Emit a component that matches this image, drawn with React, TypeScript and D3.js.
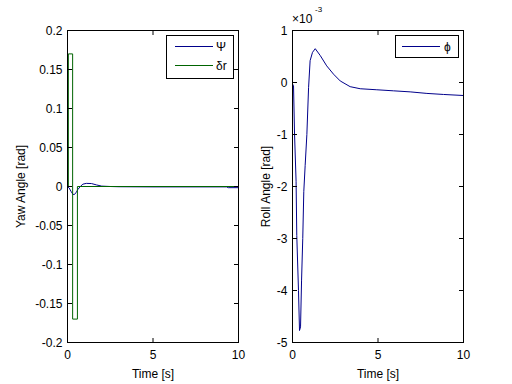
import React from 'react';
import * as d3 from 'd3';

// yaw angle psi [rad] over time [s]
const psiT = [0, 0.1, 0.2, 0.3, 0.38, 0.5, 0.6, 0.75, 0.9, 1.1, 1.4, 1.7, 2.0, 2.5, 3, 5, 9.3, 9.4, 10];
const psiV = [0, -0.002, -0.006, -0.0095, -0.0105, -0.008, -0.004, 0, 0.003, 0.004, 0.0038, 0.002, 0.0005, 0, -0.0003, -0.0005, -0.0005, -0.0015, -0.0015];

// rudder deflection delta_r [rad]
const drT = [0, 0.05, 0.05, 0.3, 0.3, 0.58, 0.58, 10];
const drV = [0, 0, 0.17, 0.17, -0.17, -0.17, 0, 0];

// roll angle phi [x1e-3 rad]
const phiT = [0, 0.06, 0.12, 0.21, 0.25, 0.35, 0.41, 0.47, 0.53, 0.6, 0.66, 0.74, 0.84, 0.94, 1.03, 1.17, 1.33, 1.62, 2.0, 2.4, 2.79, 3.37, 3.96, 4.93, 5.9, 6.88, 7.86, 8.83, 10];
const phiV = [-0.03, -0.06, -1.0, -1.9, -2.94, -4.0, -4.77, -4.7, -3.8, -3.0, -2.1, -1.6, -1.0, -0.1, 0.42, 0.58, 0.65, 0.52, 0.32, 0.16, 0.03, -0.08, -0.12, -0.14, -0.16, -0.18, -0.21, -0.23, -0.25];

const xTicks = [0, 5, 10];
const yawTicks = [0.2, 0.15, 0.1, 0.05, 0, -0.05, -0.1, -0.15, -0.2];
const rollTicks = [1, 0, -1, -2, -3, -4, -5];

const FONT = '"Liberation Sans", Arial, Helvetica, sans-serif';
const BLUE = '#00008b';
const GREEN = '#006400';

type Series = { t: number[]; v: number[]; color: string };

function Panel({ x0, x1, yDomain, yTicks, yLabel, labelX, series }: {
  x0: number; x1: number; yDomain: [number, number]; yTicks: number[]; yLabel: string;
  labelX: number; series: Series[];
}) {
  const top = 30.5, bottom = 342.5;
  const x = d3.scaleLinear().domain([0, 10]).range([x0, x1]);
  const y = d3.scaleLinear().domain(yDomain).range([bottom, top]);
  const line = d3.line<[number, number]>().x(d => x(d[0])).y(d => y(d[1]));
  const tl = 4.5;
  return (
    <g fontFamily={FONT} fontSize={12}>
      <defs>
        <clipPath id={'clip' + x0}>
          <rect x={x0} y={top} width={x1 - x0} height={bottom - top} />
        </clipPath>
      </defs>
      <rect x={x0} y={top} width={x1 - x0} height={bottom - top} fill="white" />
      <g clipPath={`url(#clip${x0})`}>
        {series.map((s, i) => (
          <path key={i} d={line(s.t.map((t, j) => [t, s.v[j]] as [number, number])) || ''}
            fill="none" stroke={s.color} strokeWidth={1} />
        ))}
      </g>
      <rect x={x0} y={top} width={x1 - x0} height={bottom - top} fill="none" stroke="black" strokeWidth={1} />
      {xTicks.map(t => (
        <g key={'x' + t}>
          <line x1={x(t)} x2={x(t)} y1={bottom} y2={bottom - tl} stroke="black" />
          <line x1={x(t)} x2={x(t)} y1={top} y2={top + tl} stroke="black" />
          <text x={x(t)} y={359} textAnchor="middle">{t}</text>
        </g>
      ))}
      {yTicks.map(t => (
        <g key={'y' + t}>
          <line x1={x0} x2={x0 + tl} y1={y(t)} y2={y(t)} stroke="black" />
          <line x1={x1} x2={x1 - tl} y1={y(t)} y2={y(t)} stroke="black" />
          <text x={x0 - 5} y={y(t)} dy="0.35em" textAnchor="end">{String(t)}</text>
        </g>
      ))}
      <text x={(x0 + x1) / 2} y={378} textAnchor="middle">Time [s]</text>
      <text transform={`translate(${labelX},${(top + bottom) / 2}) rotate(-90)`} dy="0.35em" textAnchor="middle">{yLabel}</text>
    </g>
  );
}

export default function App() {
  return (
    <svg width={512} height={384} style={{ position: 'absolute', left: 0, top: 0, background: 'white' }}>
      <rect width={512} height={384} fill="white" />
      <Panel x0={67.5} x1={238.5} yDomain={[-0.2, 0.2]} yTicks={yawTicks} yLabel="Yaw Angle [rad]"
        labelX={21}
        series={[{ t: psiT, v: psiV, color: BLUE }, { t: drT, v: drV, color: GREEN }]} />
      <Panel x0={292.5} x1={463.5} yDomain={[-5, 1]} yTicks={rollTicks} yLabel="Roll Angle [rad]"
        labelX={266}
        series={[{ t: phiT, v: phiV, color: BLUE }]} />
      {/* exponent label */}
      <g fontFamily={FONT} fontSize={12}>
        <text x={292} y={23}>×10</text>
        <text x={315} y={12} fontSize={8}>-3</text>
      </g>
      {/* legend left */}
      <g fontFamily={FONT} fontSize={12}>
        <rect x={166.5} y={35.5} width={67} height={43} fill="white" stroke="black" />
        <line x1={175} x2={213} y1={46.5} y2={46.5} stroke={BLUE} />
        <text x={216} y={46.5} dy="0.35em">Ψ</text>
        <line x1={175} x2={213} y1={65.5} y2={65.5} stroke={GREEN} />
        <text x={216} y={65.5} dy="0.35em">δr</text>
      </g>
      {/* legend right */}
      <g fontFamily={FONT} fontSize={12}>
        <rect x={395.5} y={35.5} width={63} height={22} fill="white" stroke="black" />
        <line x1={402} x2={440} y1={46.5} y2={46.5} stroke={BLUE} />
        <text x={444} y={46.5} dy="0.35em">ϕ</text>
      </g>
    </svg>
  );
}
